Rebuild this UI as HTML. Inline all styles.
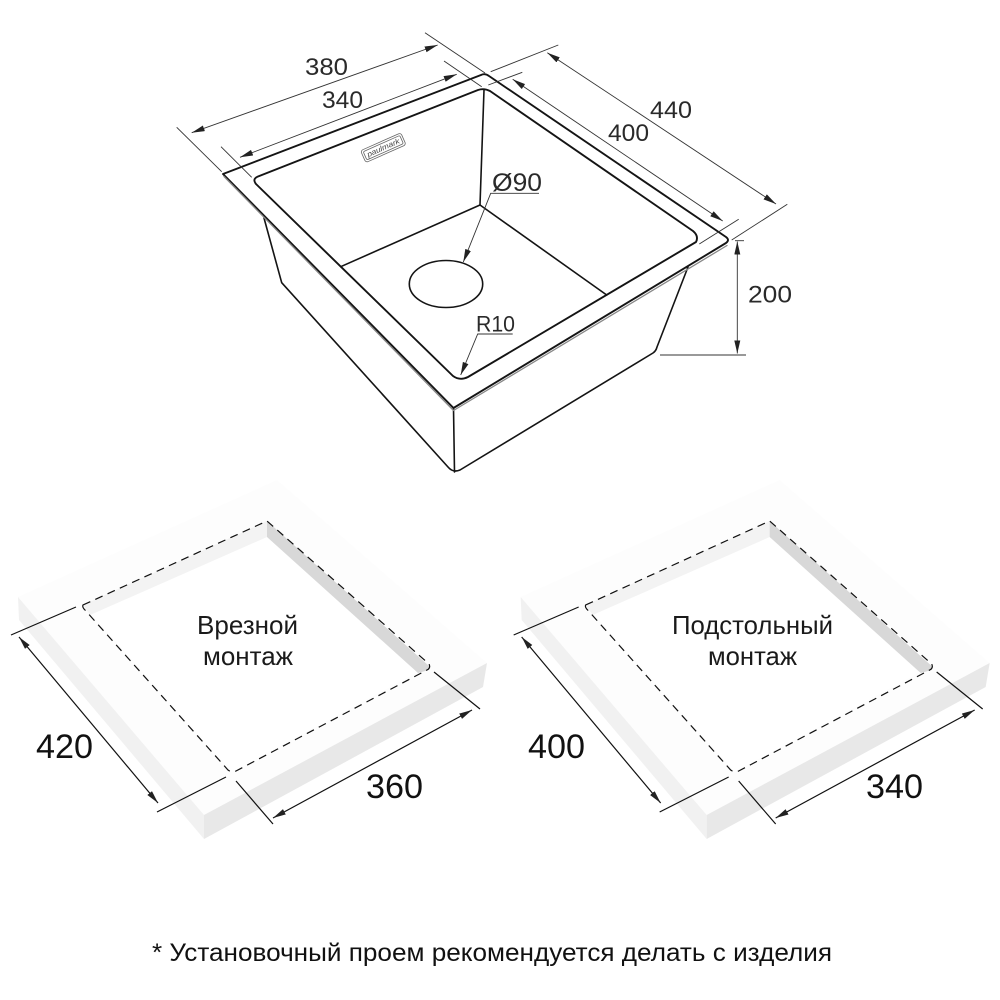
<!DOCTYPE html>
<html><head><meta charset="utf-8"><style>
html,body{margin:0;padding:0;background:#fff}
svg{display:block}
text{font-family:"Liberation Sans",sans-serif}
.d{fill:#2a2a2a;font-size:24px}
.b{fill:#111;font-size:34px}
.l{fill:#1a1a1a;font-size:26px}
</style></head><body>
<svg width="1000" height="1000" viewBox="0 0 1000 1000" xmlns="http://www.w3.org/2000/svg">
<defs>
<marker id="a" markerWidth="14" markerHeight="8" refX="13" refY="3" orient="auto-start-reverse" markerUnits="userSpaceOnUse"><path d="M0 0L13 3L0 6z" fill="#222"/></marker>
<g id="slab">
<polygon points="18,597 277,480 487,663 204,815" fill="#fdfdfd"/>
<polygon points="18,597 204,815 204,839 19,620" fill="#f1f1f1"/>
<polygon points="204,815 487,663 483,687 204,839" fill="#e8e8e8"/>
<polygon points="83,605 267,521 429,666 232,772" fill="#fff"/>
<polygon points="83,605 267,521 267,537 90,615" fill="#f3f3f3"/>
<polygon points="267,521 429,666 429,670 418,673 267,537" fill="#d8d8d8"/>
<path d="M83,605L267,521L429,664Q431,668 427,670L236,771Q232,773 228,770L85,610Q82,607 83,605Z" fill="none" stroke="#111" stroke-width="1.2" stroke-dasharray="8 5.5"/>
<g stroke="#111" stroke-width="1.2" fill="none">
<line x1="11" y1="635" x2="76" y2="607"/>
<line x1="157" y1="812" x2="226" y2="777"/>
<line x1="236" y1="781" x2="273" y2="824"/>
<line x1="434" y1="672" x2="480" y2="709"/>
<line x1="19" y1="637" x2="158" y2="803" marker-start="url(#a)" marker-end="url(#a)"/>
<line x1="273" y1="818" x2="472" y2="710" marker-start="url(#a)" marker-end="url(#a)"/>
</g>
</g>
</defs>

<!-- Sink body -->
<g fill="none" stroke="#141414" stroke-linejoin="round" stroke-linecap="round">
<path d="M264,218L281.7,282.7L448,467Q453,473 460,470L653,353Q656,351 657,347L688,267" stroke-width="1.6"/>
<line x1="453.5" y1="408" x2="454.5" y2="472" stroke-width="1.6"/>
<path d="M223,174L481,75Q485,73 489,76L726,237Q730,240 726,243L453.5,408Z" stroke-width="1.9"/>
<path d="M224,176.5L453.5,410.5L727,245.5" stroke="#888" stroke-width="1.3"/>
<path d="M258,176.5L478,90Q484,88 490,91L693,231Q699,236 696,242L468,377Q460,381 453,376L256,184Q252,179 258,176.5Z" stroke-width="1.9"/>
<line x1="484" y1="90" x2="480" y2="205" stroke-width="1.6"/>
<line x1="480" y1="205" x2="340.7" y2="266.7" stroke-width="1.6"/>
<line x1="480" y1="205" x2="606.7" y2="295" stroke-width="1.6"/>
<ellipse cx="446" cy="284" rx="36.7" ry="23.5" stroke-width="1.6"/>
</g>

<!-- Logo -->
<g transform="translate(383.3,147.7) rotate(-24)">
<rect x="-22" y="-6.5" width="44" height="13" rx="2.5" fill="none" stroke="#666" stroke-width=".8"/>
<rect x="-20" y="-4.5" width="40" height="9" rx="1.5" fill="none" stroke="#666" stroke-width=".8"/>
<text x="0" y="2.5" text-anchor="middle" font-size="7.5" font-style="italic" fill="#444" textLength="35" lengthAdjust="spacingAndGlyphs">paulmark</text>
</g>

<!-- Dimensions -->
<g stroke="#333" stroke-width=".9" fill="none">
<line x1="176.7" y1="127.3" x2="221.7" y2="171.7"/>
<line x1="425" y1="32.7" x2="485" y2="73"/>
<line x1="221" y1="146.7" x2="251.7" y2="177.3"/>
<line x1="444" y1="61" x2="481.7" y2="86.7"/>
<line x1="191.7" y1="132.7" x2="437.7" y2="45" marker-start="url(#a)" marker-end="url(#a)"/>
<line x1="240" y1="157.3" x2="456.7" y2="74.3" marker-start="url(#a)" marker-end="url(#a)"/>
<line x1="490.7" y1="71.7" x2="558.3" y2="45"/>
<line x1="731.7" y1="240" x2="787.3" y2="204.3"/>
<line x1="488.3" y1="85" x2="522.3" y2="72.3"/>
<line x1="699.3" y1="244" x2="738.7" y2="219.3"/>
<line x1="547.3" y1="52.7" x2="776" y2="204" marker-start="url(#a)" marker-end="url(#a)"/>
<line x1="512.7" y1="79.3" x2="722.7" y2="221" marker-start="url(#a)" marker-end="url(#a)"/>
<line x1="735" y1="240.7" x2="744" y2="240.7"/>
<line x1="660" y1="355" x2="746" y2="355"/>
<line x1="737.3" y1="241.5" x2="737.3" y2="353.5" marker-start="url(#a)" marker-end="url(#a)"/>
<path d="M539,193.3H490.7L463.3,262" marker-end="url(#a)"/>
<path d="M512.7,334H477.7L460.7,375" marker-end="url(#a)"/>
</g>
<g class="d">
<text class="d" x="305" y="75" textLength="43" lengthAdjust="spacingAndGlyphs">380</text>
<text class="d" x="322" y="108" textLength="41" lengthAdjust="spacingAndGlyphs">340</text>
<text class="d" x="650" y="118" textLength="42" lengthAdjust="spacingAndGlyphs">440</text>
<text class="d" x="608" y="141" textLength="41" lengthAdjust="spacingAndGlyphs">400</text>
<text class="d" x="748" y="302.5" textLength="44" lengthAdjust="spacingAndGlyphs">200</text>
<text class="d" x="492" y="191" textLength="50" lengthAdjust="spacingAndGlyphs" style="font-size:25px">Ø90</text>
<text class="d" x="476" y="331.5" textLength="39" lengthAdjust="spacingAndGlyphs" style="font-size:22.5px">R10</text>
</g>

<!-- Cutouts -->
<use href="#slab"/>
<use href="#slab" x="502.67"/>
<text class="b" x="36" y="758" textLength="57" lengthAdjust="spacingAndGlyphs">420</text>
<text class="b" x="366" y="798" textLength="57" lengthAdjust="spacingAndGlyphs">360</text>
<text class="b" x="528" y="758" textLength="57" lengthAdjust="spacingAndGlyphs">400</text>
<text class="b" x="866" y="798" textLength="57" lengthAdjust="spacingAndGlyphs">340</text>
<text class="l" x="197" y="634" textLength="101" lengthAdjust="spacingAndGlyphs">Врезной</text>
<text class="l" x="203" y="665" textLength="90" lengthAdjust="spacingAndGlyphs">монтаж</text>
<text class="l" x="672" y="634" textLength="161" lengthAdjust="spacingAndGlyphs">Подстольный</text>
<text class="l" x="708" y="665" textLength="89" lengthAdjust="spacingAndGlyphs">монтаж</text>

<text x="152" y="961" font-size="25" fill="#111" textLength="680" lengthAdjust="spacingAndGlyphs">* Установочный проем рекомендуется делать с изделия</text>
</svg>
</body></html>
